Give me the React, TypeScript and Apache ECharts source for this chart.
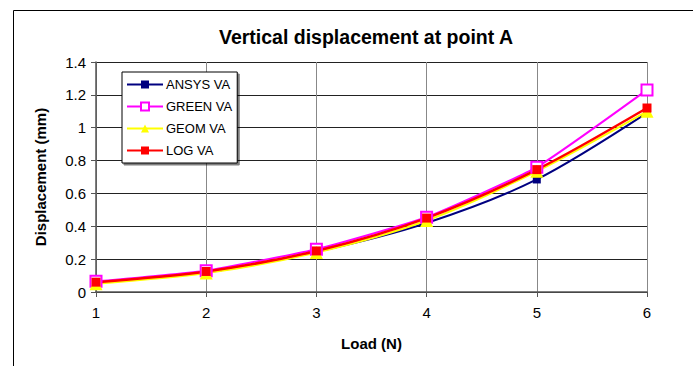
import React, { useEffect, useRef } from "react";
import * as echarts from "echarts";

const loads = [1, 2, 3, 4, 5, 6];
const ansys = [0.06, 0.12, 0.245, 0.42, 0.685, 1.09];
const green = [0.065, 0.13, 0.26, 0.455, 0.76, 1.23];
const geom = [0.05, 0.115, 0.24, 0.435, 0.735, 1.1];
const logva = [0.06, 0.125, 0.25, 0.45, 0.745, 1.12];

const pairs = (ys: number[]) => loads.map((x, i) => [x, ys[i]]);

export default function App() {
  const ref = useRef<HTMLDivElement>(null);
  useEffect(() => {
    document.body.style.margin = "0";
    const chart = echarts.init(ref.current!, null, { renderer: "svg" });
    const font = "Liberation Sans, Arial, sans-serif";
    chart.setOption({
      animation: false,
      backgroundColor: "#fff",
      textStyle: { fontFamily: font },
      title: {
        text: "Vertical displacement at point A",
        left: 361,
        textAlign: "center",
        top: 22,
        textStyle: { fontSize: 19.5, fontWeight: "bold", color: "#000", fontFamily: font },
      },
      graphic: [
        {
          type: "rect",
          shape: { x: 13.5, y: 10.5, width: 720, height: 400 },
          style: { fill: "none", stroke: "#000", lineWidth: 1 },
          z: -1,
        },
      ],
      legend: {
        left: 122,
        top: 72,
        orient: "vertical",
        itemWidth: 36,
        itemHeight: 10,
        itemGap: 9,
        padding: [6, 5, 6, 4],
        borderColor: "#000",
        borderWidth: 1,
        backgroundColor: "#fff",
        shadowColor: "rgba(0,0,0,0.5)",
        shadowOffsetX: 2,
        shadowOffsetY: 2,
        shadowBlur: 0,
        textStyle: { fontSize: 13, color: "#000", fontFamily: font, padding: [0, 0, 0, -2] },
        data: ["ANSYS VA", "GREEN VA", "GEOM VA", "LOG VA"],
      },
      grid: { left: 96, right: 46, top: 62, bottom: 74 },
      xAxis: {
        type: "value",
        min: 1,
        max: 6,
        interval: 1,
        name: "Load (N)",
        nameLocation: "middle",
        nameGap: 44,
        nameTextStyle: { fontSize: 15, fontWeight: "bold", color: "#000" },
        axisLine: { lineStyle: { color: "#555", width: 1.5 } },
        axisTick: { show: true, length: 5, lineStyle: { color: "#555" } },
        axisLabel: { fontSize: 15, color: "#000", margin: 13 },
        splitLine: { show: true, lineStyle: { color: "#888", width: 1 } },
      },
      yAxis: {
        type: "value",
        min: 0,
        max: 1.4,
        interval: 0.2,
        name: "Displacement (mm)",
        nameLocation: "middle",
        nameGap: 48,
        nameRotate: 90,
        nameTextStyle: { fontSize: 15, fontWeight: "bold", color: "#000" },
        axisLine: { show: true, lineStyle: { color: "#555", width: 1.5 } },
        axisTick: { show: true, length: 5, lineStyle: { color: "#555" } },
        axisLabel: { fontSize: 15, color: "#000", margin: 10 },
        splitLine: { show: true, lineStyle: { color: "#222", width: 1 } },
      },
      series: [
        {
          name: "ANSYS VA",
          type: "line",
          smooth: 0.3,
          data: pairs(ansys),
          symbol: "rect",
          symbolSize: 8,
          lineStyle: { color: "#000080", width: 2 },
          itemStyle: { color: "#000080" },
        },
        {
          name: "GREEN VA",
          type: "line",
          smooth: 0.15,
          data: pairs(green),
          symbol: "emptyRect",
          symbolSize: 11,
          lineStyle: { color: "#ff00ff", width: 2 },
          itemStyle: { color: "#ff00ff", borderColor: "#ff00ff", borderWidth: 1.2 },
        },
        {
          name: "GEOM VA",
          type: "line",
          smooth: 0.3,
          data: pairs(geom),
          symbol: "triangle",
          symbolSize: 13,
          lineStyle: { color: "#ffff00", width: 2 },
          itemStyle: { color: "#ffff00" },
        },
        {
          name: "LOG VA",
          type: "line",
          smooth: 0.3,
          data: pairs(logva),
          symbol: "rect",
          symbolSize: 9,
          lineStyle: { color: "#ff0000", width: 2.5 },
          itemStyle: { color: "#ff0000" },
        },
      ],
    });
    return () => chart.dispose();
  }, []);
  return <div ref={ref} style={{ width: 693, height: 366, position: "absolute", left: 0, top: 0 }} />;
}
